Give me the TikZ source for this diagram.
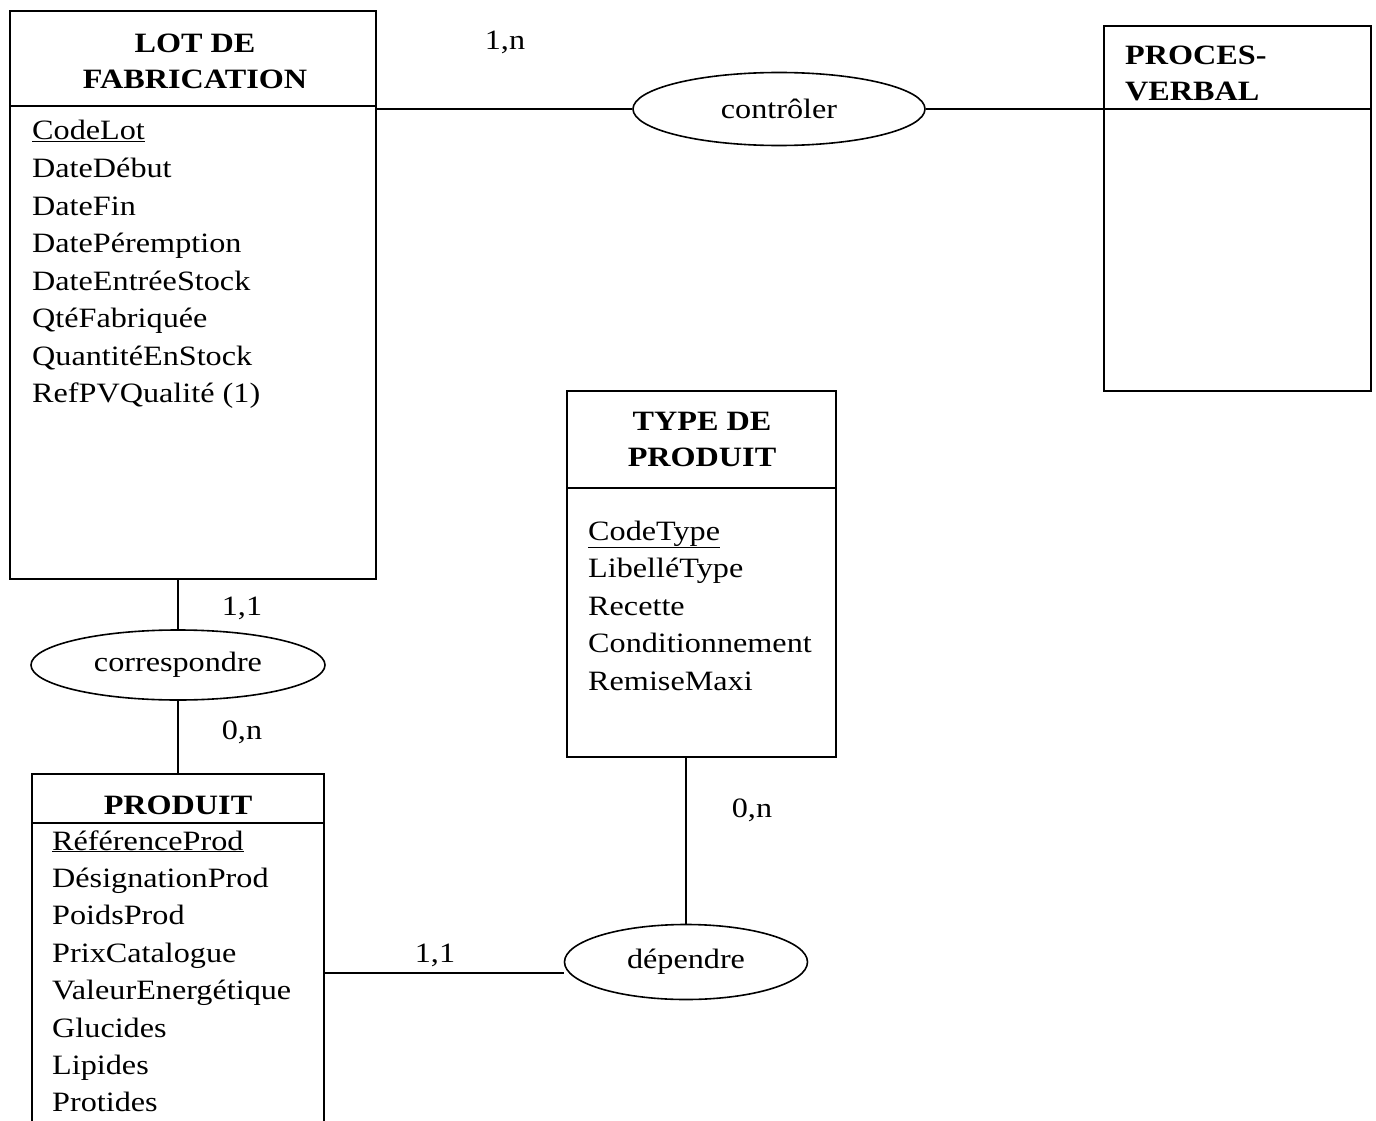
\documentclass[tikz,border=0pt]{standalone}
\usepackage{fontspec}
\setmainfont[FakeStretch=1.15]{Liberation Serif}
\usetikzlibrary{shapes.geometric,backgrounds}
\tikzset{
  ent/.style={draw, line width=1.6pt, rectangle, inner sep=0pt, anchor=north west},
  rel/.style={draw, line width=1.6pt, ellipse, fill=white, inner sep=0pt, font=\fontsize{28}{30}\selectfont},
  ttl/.style={font=\bfseries\fontsize{28}{36}\selectfont, align=center, inner sep=0pt},
  attr/.style={font=\fontsize{28}{30}\selectfont, anchor=west, inner sep=0pt},
  card/.style={font=\fontsize{28}{30}\selectfont, inner sep=0pt},
  sep/.style={line width=1.6pt},
  conn/.style={line width=1.6pt}
}
\begin{document}
\begin{tikzpicture}[x=1pt,y=-1pt]
\useasboundingbox (0,0) rectangle (1376,1121);
% LOT DE FABRICATION
\node[ent, minimum width=366pt, minimum height=568pt] (lot) at (9,10) {};
\coordinate (lotsep) at (9,106);
\draw[sep] (lotsep) -- (lotsep -| lot.east);
\node[ttl] (lott) at (195,61) {LOT DE\\FABRICATION};
\foreach \t [count=\i] in {\underline{CodeLot},DateDébut,DateFin,DatePéremption,DateEntréeStock,QtéFabriquée,QuantitéEnStock,RefPVQualité (1)}
  \node[attr] (lota\i) at (32,{134+37.5*(\i-1)}) {\strut\t};
% PROCES-VERBAL
\node[ent, minimum width=267pt, minimum height=365pt] (pv) at (1103,25) {};
\coordinate (pvsep) at (1103,109);
\draw[sep] (pvsep) -- (pvsep -| pv.east);
\node[ttl, align=left, anchor=north west] (pvt) at (1125,46) {PROCES-\\VERBAL};
% TYPE DE PRODUIT
\node[ent, minimum width=269pt, minimum height=366pt] (typ) at (566,390) {};
\coordinate (typsep) at (566,488);
\draw[sep] (typsep) -- (typsep -| typ.east);
\node[ttl] (typt) at (702,439) {TYPE DE\\PRODUIT};
\foreach \t [count=\i] in {\underline{CodeType},LibelléType,Recette,Conditionnement,RemiseMaxi}
  \node[attr] (typa\i) at (588,{534+37.5*(\i-1)}) {\strut\t};
% PRODUIT
\node[ent, minimum width=292pt, minimum height=400pt] (prod) at (31,773) {};
\coordinate (prodsep) at (31,823);
\draw[sep] (prodsep) -- (prodsep -| prod.east);
\node[ttl] (prodt) at (178,805) {PRODUIT};
\foreach \t [count=\i] in {\underline{RéférenceProd},DésignationProd,PoidsProd,PrixCatalogue,ValeurEnergétique,Glucides,Lipides,Protides}
  \node[attr] (proda\i) at (52,{844+37.4*(\i-1)}) {\strut\t};
% relations
\node[rel, minimum width=292pt, minimum height=73pt] (ctl) at (779,109) {contrôler};
\node[rel, minimum width=294pt, minimum height=70pt] (cor) at (178,665) {correspondre};
\node[rel, minimum width=243pt, minimum height=75pt] (dep) at (686,962) {dépendre};
% connectors
\coordinate (lotc) at (375,109);
\coordinate (lotb) at (178,578);
\coordinate (prodtop) at (178,773);
\coordinate (prodr) at (323,973);
\coordinate (typb) at (686,756);
\begin{pgfonlayer}{background}
\draw[conn] (lotc) -- (ctl.west);
\draw[conn] (ctl.east) -- (ctl.east -| pv.west);
\draw[conn] (lotb) -- (cor.north);
\draw[conn] (cor.south) -- (prodtop);
\draw[conn] (prodr) -- (prodr -| dep.west);
\draw[conn] (typb) -- (dep.north);
\end{pgfonlayer}
% cardinalities
\node[card] (c1) at (505,42) {1,n};
\node[card] (c2) at (242,608) {1,1};
\node[card] (c3) at (242,732) {0,n};
\node[card] (c4) at (435,955) {1,1};
\node[card] (c5) at (752,810) {0,n};
\end{tikzpicture}
\end{document}
